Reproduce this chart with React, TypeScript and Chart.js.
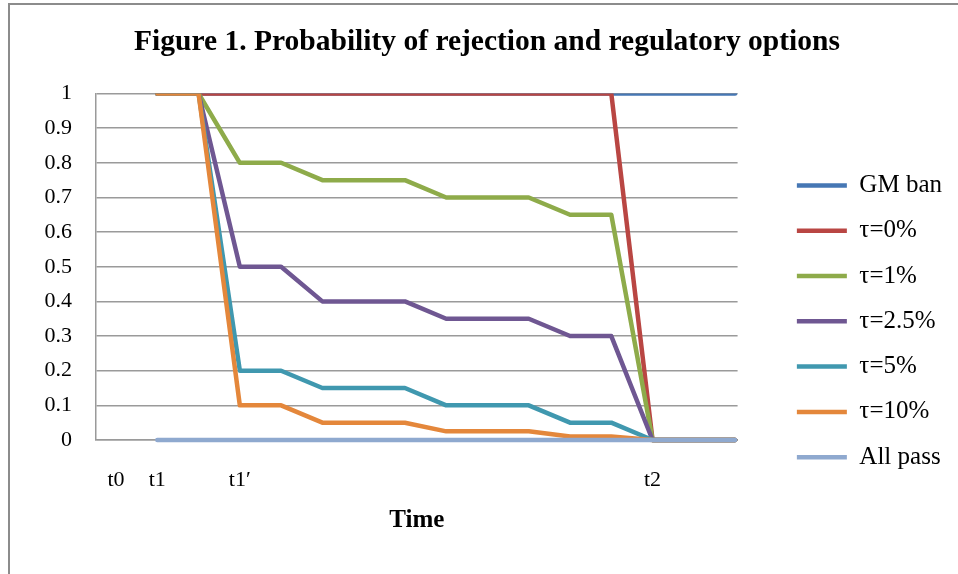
import { useEffect, useRef } from "react";
import { Chart, registerables } from "chart.js";

Chart.register(...registerables);

const FONT = "'Liberation Serif', 'Times New Roman', Times, serif";

const TITLE = "Figure 1. Probability of rejection and regulatory options";
const X_TITLE = "Time";
const X_LABELS = ["t0", "t1", "", "t1\u2032", "", "", "", "", "", "", "", "", "", "t2", "", ""];
const Y_TICKS = [0, 0.1, 0.2, 0.3, 0.4, 0.5, 0.6, 0.7, 0.8, 0.9, 1];

const SERIES_NAMES = ["GM ban", "\u03c4=0%", "\u03c4=1%", "\u03c4=2.5%", "\u03c4=5%", "\u03c4=10%", "All pass"];
const SERIES_COLORS = ["#4677b4", "#b94643", "#8eab4a", "#6f5792", "#4098af", "#e4873b", "#8fa9cf"];

const GM_BAN = [null, 1, 1, 1, 1, 1, 1, 1, 1, 1, 1, 1, 1, 1, 1, 1];
const TAU_0 = [null, 1, 1, 1, 1, 1, 1, 1, 1, 1, 1, 1, 1, 0, 0, 0];
const TAU_1 = [null, 1, 1, 0.8, 0.8, 0.75, 0.75, 0.75, 0.7, 0.7, 0.7, 0.65, 0.65, 0, 0, 0];
const TAU_2_5 = [null, 1, 1, 0.5, 0.5, 0.4, 0.4, 0.4, 0.35, 0.35, 0.35, 0.3, 0.3, 0, 0, 0];
const TAU_5 = [null, 1, 1, 0.2, 0.2, 0.15, 0.15, 0.15, 0.1, 0.1, 0.1, 0.05, 0.05, 0, 0, 0];
const TAU_10 = [null, 1, 1, 0.1, 0.1, 0.05, 0.05, 0.05, 0.025, 0.025, 0.025, 0.01, 0.01, 0, 0, 0];
const ALL_PASS = [null, 0, 0, 0, 0, 0, 0, 0, 0, 0, 0, 0, 0, 0, 0, 0];

const SERIES = [GM_BAN, TAU_0, TAU_1, TAU_2_5, TAU_5, TAU_10, ALL_PASS];

export default function App() {
  const ref = useRef<HTMLCanvasElement | null>(null);

  useEffect(() => {
    const canvas = ref.current;
    if (!canvas) return;

    const framePlugin = {
      id: "frame",
      beforeDraw(chart: any) {
        const ctx = chart.ctx;
        ctx.save();
        ctx.fillStyle = "#ffffff";
        ctx.fillRect(0, 0, chart.width, chart.height);
        ctx.strokeStyle = "#8c8c8c";
        ctx.lineWidth = 2;
        ctx.beginPath();
        ctx.moveTo(9, chart.height + 2);
        ctx.lineTo(9, 4);
        ctx.lineTo(chart.width + 2, 4);
        ctx.stroke();
        ctx.restore();
      },
    };

    const datasets = SERIES.map((values, si) => ({
      label: SERIES_NAMES[si],
      data: values.map((v, i) => ({ x: i, y: v })),
      borderColor: SERIES_COLORS[si],
      backgroundColor: SERIES_COLORS[si],
      borderWidth: 4.5,
      pointRadius: 0,
      pointHoverRadius: 0,
      tension: 0,
      fill: false,
      borderJoinStyle: "round" as const,
      borderCapStyle: "round" as const,
      order: SERIES.length - si,
      clip: { left: 6, right: 6, top: 0, bottom: 6 },
    }));

    const chart = new Chart(canvas, {
      type: "line",
      data: { datasets },
      plugins: [framePlugin],
      options: {
        responsive: false,
        animation: false,
        devicePixelRatio: 1,
        events: [],
        layout: { padding: { left: 22, right: 6, top: 0, bottom: 0 } },
        plugins: {
          tooltip: { enabled: false },
          title: {
            display: true,
            text: TITLE,
            color: "#000",
            font: { family: FONT, size: 29.5, weight: "bold", lineHeight: 1.2 },
            padding: { top: 24.5, bottom: 33.6 },
          },
          legend: {
            display: true,
            position: "right",
            align: "start",
            title: {
              display: true,
              text: "",
              font: { size: 1, lineHeight: 1 },
              padding: { top: 151.7, bottom: 0 },
            },
            labels: {
              usePointStyle: true,
              pointStyle: "line",
              pointStyleWidth: 50,
              boxWidth: 50,
              boxHeight: 25,
              padding: 20.28,
              color: "#000",
              font: { family: FONT, size: 25 },
              sort: (a: any, b: any) => a.datasetIndex - b.datasetIndex,
            },
          },
        },
        scales: {
          x: {
            type: "linear",
            min: -0.485,
            max: 15.06,
            offset: false,
            grid: { display: false, drawTicks: false },
            border: { display: true, color: "#9a9a9a", width: 1.5 },
            afterBuildTicks: (s: any) => {
              s.ticks = X_LABELS.map((_, i) => ({ value: i }));
            },
            afterFit: (s: any) => {
              s.height = 134;
            },
            ticks: {
              autoSkip: false,
              maxRotation: 0,
              minRotation: 0,
              padding: 27.4,
              color: "#000",
              font: { family: FONT, size: 22 },
              callback: (v: any) => X_LABELS[Math.round(Number(v))] ?? "",
            },
            title: {
              display: true,
              text: X_TITLE,
              color: "#000",
              font: { family: FONT, size: 25, weight: "bold", lineHeight: 1.2 },
              padding: { top: 0, bottom: 38.4 },
            },
          },
          y: {
            type: "linear",
            position: "left",
            min: 0,
            max: 1,
            grid: { display: true, color: "#9a9a9a", lineWidth: 1.5, drawTicks: false },
            border: { display: true, color: "#9a9a9a", width: 1.5 },
            afterBuildTicks: (s: any) => {
              s.ticks = Y_TICKS.map((v) => ({ value: v }));
            },
            afterFit: (s: any) => {
              s.width = 74;
            },
            ticks: {
              padding: 24,
              color: "#000",
              font: { family: FONT, size: 22 },
              callback: (v: any) => String(Math.round(Number(v) * 10) / 10),
            },
          },
          y2: {
            type: "linear",
            position: "right",
            display: false,
            grid: { display: false, drawTicks: false },
            border: { display: false },
            ticks: { display: false },
            afterFit: (s: any) => {
              s.width = 39;
            },
          },
        },
      },
    });

    return () => {
      chart.destroy();
    };
  }, []);

  return (
    <div style={{ position: "absolute", left: 0, top: 0, width: 958, height: 574 }}>
      <canvas ref={ref} width={958} height={574} style={{ display: "block", width: 958, height: 574 }} />
    </div>
  );
}
